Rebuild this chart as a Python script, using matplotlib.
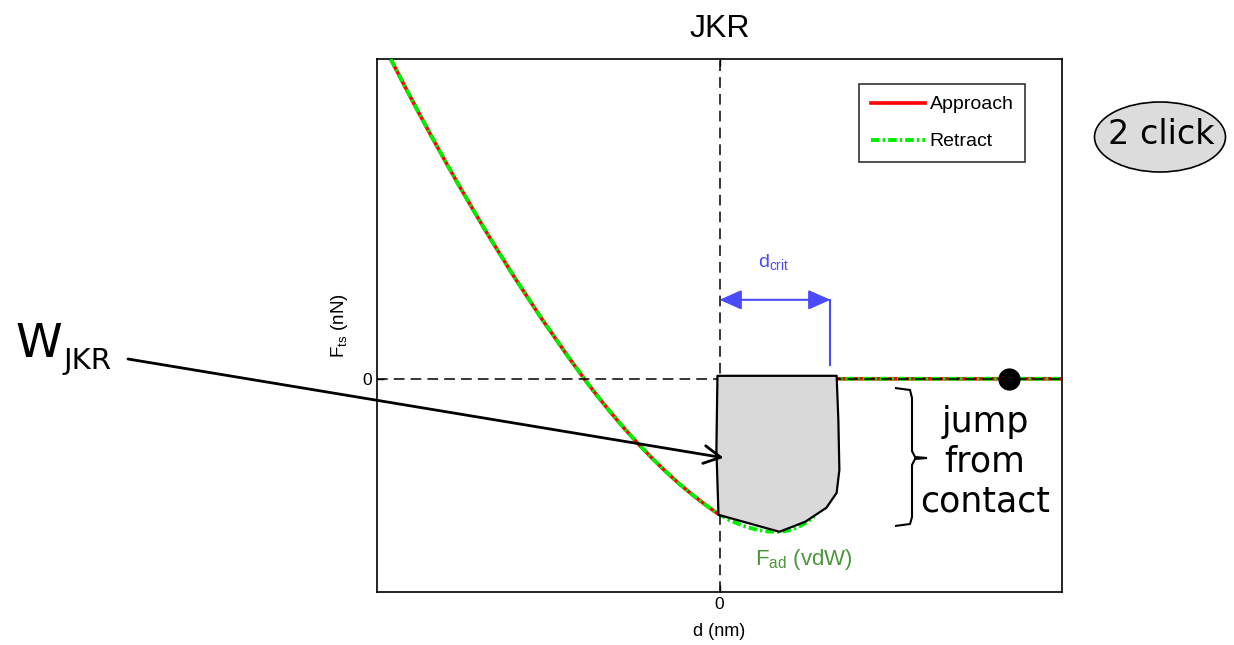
import matplotlib
matplotlib.use("Agg")
import matplotlib.pyplot as plt
from matplotlib.patches import Polygon, Ellipse, PathPatch
from matplotlib.path import Path

plt.rcParams['font.family'] = ['Liberation Sans', 'DejaVu Sans']

# ---- data ----
curve_x = [-0.960, -0.920, -0.880, -0.840, -0.800, -0.760, -0.720, -0.680, -0.640,
           -0.600, -0.560, -0.520, -0.480, -0.440, -0.395, -0.360, -0.320, -0.280,
           -0.240, -0.200, -0.160, -0.120, -0.080, -0.040, -0.007, 0.030, 0.070,
           0.110, 0.140, 0.168, 0.190, 0.210, 0.235, 0.256, 0.274]
curve_y = [3.000, 2.751, 2.507, 2.269, 2.037, 1.810, 1.590, 1.372, 1.165,
           0.958, 0.763, 0.567, 0.383, 0.199, 0.000, -0.147, -0.307, -0.458,
           -0.601, -0.735, -0.861, -0.978, -1.086, -1.185, -1.261, -1.327, -1.381,
           -1.417, -1.432, -1.436, -1.430, -1.415, -1.382, -1.343, -1.301]
jump_approach_x = 0.0
x_max = 1.0
w_region_x = [-0.006, 0.342, 0.347, 0.350, 0.342, 0.312, 0.251, 0.175, -0.003, -0.009]
w_region_y = [0.028, 0.028, -0.385, -0.854, -1.070, -1.210, -1.340, -1.435, -1.276, -0.666]
dot_x, dot_y = 0.844, 0.0
dcrit = 0.324
dcrit_y = 0.741
xticks = [0]
yticks = [0]

W, H = 1234, 645
fig = plt.figure(figsize=(W / 100, H / 100), dpi=100)
ax = fig.add_axes([377 / W, 1 - 592 / H, 685 / W, 533 / H])
ax.set_xlim(-1, 1)
ax.set_ylim(-2, 3)

def fx(px):
    return px / W

def fy(py):
    return 1 - py / H

# approach / retract curves
n_appr = sum(1 for x in curve_x if x <= jump_approach_x)
appr_x = curve_x[:n_appr] + [jump_approach_x, jump_approach_x, x_max]
appr_y = curve_y[:n_appr] + [curve_y[n_appr - 1], 0, 0]
retr_x = curve_x + [curve_x[-1], x_max]
retr_y = curve_y + [0, 0]

ax.plot(appr_x, appr_y, color='#ff0000', lw=2.6, label='Approach', zorder=2)
ax.plot(retr_x, retr_y, color='#00ee00', lw=2.8, dashes=(2.2, 0.8, 0.6, 0.8),
        label='Retract', zorder=3)

# dashed reference lines
ax.axhline(0, color='black', lw=1.1, dashes=(7, 4), zorder=3.5)
ax.axvline(0, color='black', lw=1.1, dashes=(7, 4), zorder=3.5)

# shaded work region
poly = Polygon(list(zip(w_region_x, w_region_y)), closed=True, facecolor='#d9d9d9',
               edgecolor='black', lw=1.6, zorder=4, joinstyle='round')
ax.add_patch(poly)

ax.plot([dot_x], [dot_y], 'o', color='black', ms=15, zorder=6)

# d_crit annotation
blue = '#4a4aff'
ax.annotate('', xy=(dcrit, dcrit_y), xytext=(0, dcrit_y),
            arrowprops=dict(arrowstyle='<|-|>,head_length=0.9,head_width=0.4',
                            color=blue, lw=1.5, shrinkA=0, shrinkB=0,
                            mutation_scale=15), zorder=5)
ax.plot([dcrit, dcrit], [dcrit_y, 0.131], color=blue, lw=1.5, zorder=5)
ax.text(0.111, 1.04, r'd$_\mathregular{crit}$', color=blue, fontsize=14,
        ha='left', va='baseline')

ax.text(0.105, -1.745, r'F$_\mathregular{ad}$ (vdW)', color='#4c963c', fontsize=16,
        ha='left', va='baseline')

# axes styling
ax.set_xticks(xticks)
ax.set_yticks(yticks)
ax.tick_params(direction='in', top=True, right=True, length=5, labelsize=12.5,
               width=1)
for s in ax.spines.values():
    s.set_linewidth(1.2)
ax.set_xlabel('d (nm)', fontsize=13, labelpad=8)
ax.set_ylabel(r'F$_\mathregular{ts}$ (nN)', fontsize=13.5, labelpad=9)
ax.set_title('JKR', fontsize=23, pad=16)

leg = ax.legend(loc='upper right', bbox_to_anchor=(0.946, 0.953), fontsize=14,
                frameon=True, fancybox=False, edgecolor='black', handlelength=2.75,
                handletextpad=0.25, labelspacing=1.0, borderpad=0.6, borderaxespad=0)
leg.get_frame().set_linewidth(1.2)
leg.set_zorder(10)

# W_JKR label and arrow
fig.text(fx(15), fy(357), 'W', fontsize=34, family='DejaVu Sans', ha='left', va='baseline')
fig.text(fx(63), fy(369), 'JKR', fontsize=21, family='DejaVu Sans', ha='left', va='baseline')
ax.annotate('', xy=(0.012, -0.741), xycoords='data',
            xytext=(128, H - 359), textcoords='figure pixels',
            arrowprops=dict(arrowstyle='->,head_length=0.6,head_width=0.32',
                            color='black', lw=2, shrinkA=0, shrinkB=0,
                            mutation_scale=20), zorder=7)

# brace + jump from contact text
brace_px = [(895, 388), (910, 390), (912, 398), (912, 451), (915, 457), (927, 458),
            (915, 459), (912, 465), (912, 517), (910, 524), (895, 526)]
verts = [(fx(x), fy(y)) for x, y in brace_px]
fig.add_artist(PathPatch(Path(verts), transform=fig.transFigure, fill=False,
                         lw=1.5, edgecolor='black'))
for txt, yb in zip(['jump', 'from', 'contact'], [432, 472, 512]):
    fig.text(fx(985), fy(yb), txt, fontsize=25, family='DejaVu Sans',
             ha='center', va='baseline')

# 2 click bubble
fig.add_artist(Ellipse((fx(1160), fy(137)), 131 / W, 70 / H, transform=fig.transFigure,
                       facecolor='#dcdcdc', edgecolor='black', lw=1.2))
fig.text(fx(1161), fy(134), '2 click', fontsize=24, family='DejaVu Sans',
         ha='center', va='center')

fig.savefig('out.png', dpi=100)
